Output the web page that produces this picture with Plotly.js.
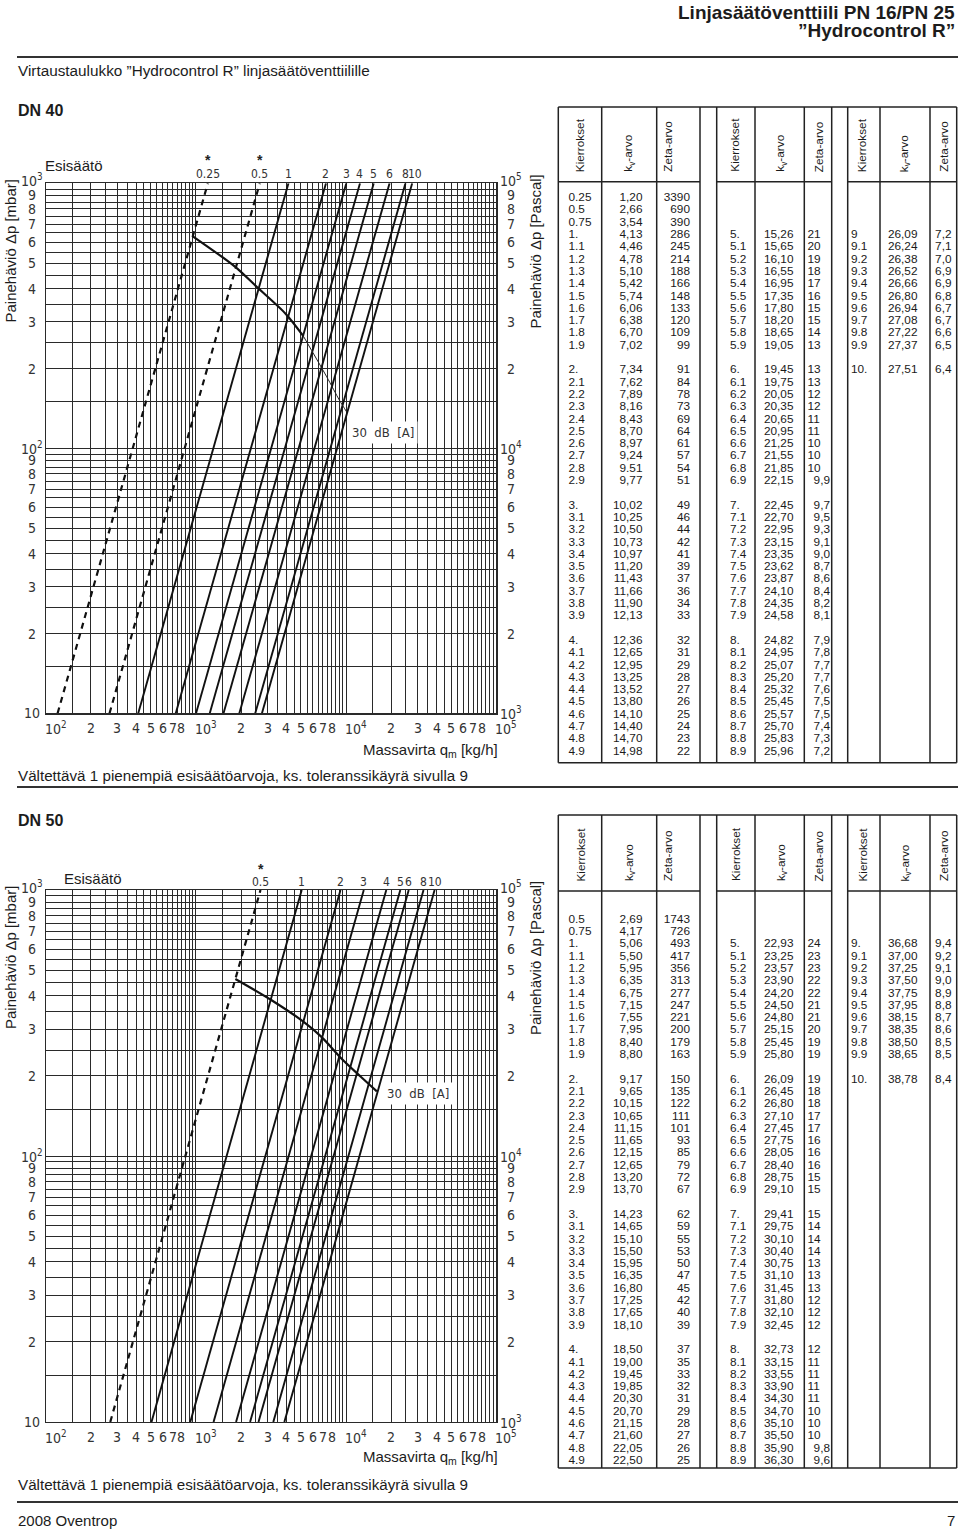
<!DOCTYPE html>
<html><head><meta charset="utf-8">
<script src="https://cdn.plot.ly/plotly-3.0.1.min.js"></script>
<style>html,body{margin:0;padding:0;background:#fff;}#chart{width:960px;height:1535px;}</style>
</head><body><div id="chart"></div>
<script>
// ================= DATA =================
const gridMultipliers = [1,1.5,2,2.5,3,3.5,4,4.5,5,5.5,6,6.5,7,7.5,8,8.5,9,9.5];
const xDecades = [100, 1000, 10000, 100000];
const yDecades = [10, 100, 1000];

const yTickVals  = [1000,900,800,700,600,500,400,300,200,100,90,80,70,60,50,40,30,20,10];
const yTickLeft  = ['10<sup>3</sup>','9','8','7','6','5','4','3','2','10<sup>2</sup>','9','8','7','6','5','4','3','2','10'];
const yTickRight = ['10<sup>5</sup>','9','8','7','6','5','4','3','2','10<sup>4</sup>','9','8','7','6','5','4','3','2','10<sup>3</sup>'];
const xTickVals  = [100,200,300,400,500,600,700,800,1000,2000,3000,4000,5000,6000,7000,8000,10000,20000,30000,40000,50000,60000,70000,80000,100000];
const xTickText  = ['10<sup>2</sup>','2','3','4','5','6','7','8','10<sup>3</sup>','2','3','4','5','6','7','8','10<sup>4</sup>','2','3','4','5','6','7','8','10<sup>5</sup>'];

// DN 40 curves: presetting, flow [kg/h] at 10 mbar and at 1000 mbar
const dn40Settings   = ['0.25','0.5','1','2','3','4','5','6','8','10'];
const dn40Dashed     = [true,true,false,false,false,false,false,false,false,false];
const dn40Starred    = [true,true,false,false,false,false,false,false,false,false];
const dn40FlowAt10   = [120,266,413,734,1002,1236,1526,1945,2482,2751];
const dn40FlowAt1000 = [1200,2660,4130,7340,10020,12360,15260,19450,24820,27510];
const dn40NoiseQ  = [953,1835,2547,3951,5188,7430,9012,10090];
const dn40NoiseDp = [631,483,406,322,265,186,152,137];

// DN 50 curves
const dn50Settings   = ['0.5','1','2','3','4','5','6','8','10'];
const dn50Dashed     = [true,false,false,false,false,false,false,false,false];
const dn50Starred    = [true,false,false,false,false,false,false,false,false];
const dn50FlowAt10   = [269,506,917,1310,1850,2293,2609,3273,3878];
const dn50FlowAt1000 = [2690,5060,9170,13100,18500,22930,26090,32730,38780];
const dn50NoiseQ  = [1830,3170,5188,6823,9474,12460,16010];
const dn50NoiseDp = [463,386,320,281,230,199,175];

// DN 40 table
const dn40Turns = ['0.25','0.5','0.75','1.','1.1','1.2','1.3','1.4','1.5','1.6','1.7','1.8','1.9',
 '2.','2.1','2.2','2.3','2.4','2.5','2.6','2.7','2.8','2.9',
 '3.','3.1','3.2','3.3','3.4','3.5','3.6','3.7','3.8','3.9',
 '4.','4.1','4.2','4.3','4.4','4.5','4.6','4.7','4.8','4.9',
 '5.','5.1','5.2','5.3','5.4','5.5','5.6','5.7','5.8','5.9',
 '6.','6.1','6.2','6.3','6.4','6.5','6.6','6.7','6.8','6.9',
 '7.','7.1','7.2','7.3','7.4','7.5','7.6','7.7','7.8','7.9',
 '8.','8.1','8.2','8.3','8.4','8.5','8.6','8.7','8.8','8.9',
 '9','9.1','9.2','9.3','9.4','9.5','9.6','9.7','9.8','9.9','10.'];
const dn40Kv = ['1,20','2,66','3,54','4,13','4,46','4,78','5,10','5,42','5,74','6,06','6,38','6,70','7,02',
 '7,34','7,62','7,89','8,16','8,43','8,70','8,97','9,24','9.51','9,77',
 '10,02','10,25','10,50','10,73','10,97','11,20','11,43','11,66','11,90','12,13',
 '12,36','12,65','12,95','13,25','13,52','13,80','14,10','14,40','14,70','14,98',
 '15,26','15,65','16,10','16,55','16,95','17,35','17,80','18,20','18,65','19,05',
 '19,45','19,75','20,05','20,35','20,65','20,95','21,25','21,55','21,85','22,15',
 '22,45','22,70','22,95','23,15','23,35','23,62','23,87','24,10','24,35','24,58',
 '24,82','24,95','25,07','25,20','25,32','25,45','25,57','25,70','25,83','25,96',
 '26,09','26,24','26,38','26,52','26,66','26,80','26,94','27,08','27,22','27,37','27,51'];
const dn40Zeta = ['3390','690','390','286','245','214','188','166','148','133','120','109','99',
 '91','84','78','73','69','64','61','57','54','51',
 '49','46','44','42','41','39','37','36','34','33',
 '32','31','29','28','27','26','25','24','23','22',
 '21','20','19','18','17','16','15','15','14','13',
 '13','13','12','12','11','11','10','10','10','9,9',
 '9,7','9,5','9,3','9,1','9,0','8,7','8,6','8,4','8,2','8,1',
 '7,9','7,8','7,7','7,7','7,6','7,5','7,5','7,4','7,3','7,2',
 '7,2','7,1','7,0','6,9','6,9','6,8','6,7','6,7','6,6','6,5','6,4'];

// DN 50 table
const dn50Turns = ['0.5','0.75','1.','1.1','1.2','1.3','1.4','1.5','1.6','1.7','1.8','1.9',
 '2.','2.1','2.2','2.3','2.4','2.5','2.6','2.7','2.8','2.9',
 '3.','3.1','3.2','3.3','3.4','3.5','3.6','3.7','3.8','3.9',
 '4.','4.1','4.2','4.3','4.4','4.5','4.6','4.7','4.8','4.9',
 '5.','5.1','5.2','5.3','5.4','5.5','5.6','5.7','5.8','5.9',
 '6.','6.1','6.2','6.3','6.4','6.5','6.6','6.7','6.8','6.9',
 '7.','7.1','7.2','7.3','7.4','7.5','7.6','7.7','7.8','7.9',
 '8.','8.1','8.2','8.3','8.4','8.5','8,6','8.7','8.8','8.9',
 '9.','9.1','9.2','9.3','9.4','9.5','9.6','9.7','9.8','9.9','10.'];
const dn50Kv = ['2,69','4,17','5,06','5,50','5,95','6,35','6,75','7,15','7,55','7,95','8,40','8,80',
 '9,17','9,65','10,15','10,65','11,15','11,65','12,15','12,65','13,20','13,70',
 '14,23','14,65','15,10','15,50','15,95','16,35','16,80','17,25','17,65','18,10',
 '18,50','19,00','19,45','19,85','20,30','20,70','21,15','21,60','22,05','22,50',
 '22,93','23,25','23,57','23,90','24,20','24,50','24,80','25,15','25,45','25,80',
 '26,09','26,45','26,80','27,10','27,45','27,75','28,05','28,40','28,75','29,10',
 '29,41','29,75','30,10','30,40','30,75','31,10','31,45','31,80','32,10','32,45',
 '32,73','33,15','33,55','33,90','34,30','34,70','35,10','35,50','35,90','36,30',
 '36,68','37,00','37,25','37,50','37,75','37,95','38,15','38,35','38,50','38,65','38,78'];
const dn50Zeta = ['1743','726','493','417','356','313','277','247','221','200','179','163',
 '150','135','122','111','101','93','85','79','72','67',
 '62','59','55','53','50','47','45','42','40','39',
 '37','35','33','32','31','29','28','27','26','25',
 '24','23','23','22','22','21','21','20','19','19',
 '19','18','18','17','17','16','16','16','15','15',
 '15','14','14','14','13','13','13','12','12','12',
 '12','11','11','11','11','10','10','10','9,8','9,6',
 '9,4','9,2','9,1','9,0','8,9','8,8','8,7','8,6','8,5','8,5','8,4'];

// ================= LAYOUT HELPERS =================
const W = 960, H = 1535;
const px = x => x / W, py = y => 1 - y / H;
const F_ARIAL  = 'Liberation Sans, Arial, Helvetica, sans-serif';
const F_NARROW = 'Liberation Sans Narrow, Arial Narrow, Liberation Sans, sans-serif';
const F_STROKE = 'DejaVu Sans Condensed, DejaVu Sans, sans-serif';
const INK = '#1c1c1c';

function gridValues(decades) {
  const v = [];
  for (let i = 0; i < decades.length - 1; i++) gridMultipliers.forEach(m => v.push(m * decades[i]));
  v.push(decades[decades.length - 1]);
  return v;
}
const xGrid = gridValues(xDecades), yGrid = gridValues(yDecades);

const PLOT_L = 45.7, PLOT_R = 496.4;
const charts = [
  {id:'', title:'DN 40', top:183.3, bottom:713.3, settings:dn40Settings, lo:dn40FlowAt10, hi:dn40FlowAt1000,
   dashed:dn40Dashed, starred:dn40Starred, nq:dn40NoiseQ, ndp:dn40NoiseDp, boldCount:5,
   noiseLabel:[17610,115], titleY:111, esisX:43, esisY:166, starY:160, labelY:174, tickY:728, massY:750, noteY:775, ruleY:787,
   axisTitleY:251.5, labelShift:{'10':3}},
  {id:'2', title:'DN 50', top:890, bottom:1422, settings:dn50Settings, lo:dn50FlowAt10, hi:dn50FlowAt1000,
   dashed:dn50Dashed, starred:dn50Starred, nq:dn50NoiseQ, ndp:dn50NoiseDp, boldCount:dn50NoiseQ.length,
   noiseLabel:[30110,172], titleY:821, esisX:62, esisY:878, starY:869, labelY:882, tickY:1437, massY:1457, noteY:1484, ruleY:1502,
   axisTitleY:958, labelShift:{}}
];

const traces = [], annotations = [], shapes = [];
const layout = {
  width: W, height: H, margin:{l:0,r:0,t:0,b:0}, paper_bgcolor:'#fff', plot_bgcolor:'rgba(0,0,0,0)',
  showlegend:false, hovermode:false,
  xaxis3:{domain:[0,1], range:[0,W], visible:false, anchor:'y3', fixedrange:true},
  yaxis3:{domain:[0,1], range:[H,0], visible:false, anchor:'x3', fixedrange:true}
};

function note(x, y, text, o) {
  o = o || {};
  return Object.assign({xref:'paper', yref:'paper', x:px(x), y:py(y), text:text, showarrow:false,
    xanchor:o.xa || 'left', yanchor:o.ya || 'middle',
    font:{family:o.family || F_ARIAL, size:o.size || 15, color:o.color || INK, weight:o.weight || 'normal'}},
    o.extra || {});
}

// header
annotations.push(note(957, 12.5, 'Linjasäätöventtiili PN 16/PN 25', {xa:'right', family:F_NARROW, size:19, weight:'bold'}));
annotations.push(note(957, 30.5, '”Hydrocontrol R”', {xa:'right', family:F_NARROW, size:19, weight:'bold'}));
shapes.push({type:'line', xref:'paper', yref:'paper', x0:px(17), x1:px(958), y0:py(57), y1:py(57), line:{color:'#333', width:2}});
annotations.push(note(16, 70, 'Virtaustaulukko ”Hydrocontrol R” linjasäätöventtiilille', {size:15.3}));
annotations.push(note(16, 1520, '2008 Oventrop', {size:15}));
annotations.push(note(957, 1520, '7', {xa:'right', size:15}));

charts.forEach(c => {
  const xa = 'x' + c.id, ya = 'y' + c.id;
  const xKey = 'xaxis' + c.id, yKey = 'yaxis' + c.id;
  layout[xKey] = {domain:[px(PLOT_L), px(PLOT_R)], type:'log', range:[2,5], anchor:ya,
    tickmode:'array', tickvals:xGrid, showticklabels:false, ticks:'',
    showgrid:true, gridcolor:'#2a2a2a', gridwidth:1, showline:true, mirror:true, linecolor:'#2a2a2a', linewidth:1.2,
    zeroline:false, fixedrange:true};
  layout[yKey] = {domain:[py(c.bottom), py(c.top)], type:'log', range:[1,3], anchor:xa,
    tickmode:'array', tickvals:yGrid, showticklabels:false, ticks:'',
    showgrid:true, gridcolor:'#2a2a2a', gridwidth:1, showline:true, mirror:true, linecolor:'#2a2a2a', linewidth:1.2,
    zeroline:false, fixedrange:true};

  // presetting lines
  c.settings.forEach((s, i) => {
    traces.push({type:'scatter', mode:'lines', x:[c.lo[i], c.hi[i]], y:[10, 1000], xaxis:xa, yaxis:ya,
      line:{color:'#111', width:c.dashed[i] ? 2.2 : 1.9, dash:c.dashed[i] ? '6px,5px' : 'solid'}, hoverinfo:'skip'});
    annotations.push({xref:xa, yref:'paper', x:Math.log10(c.hi[i]), y:py(c.labelY), text:s, showarrow:false,
      xanchor:'center', yanchor:'middle', xshift:c.labelShift[s] || 0, font:{family:F_STROKE, size:12, color:'#333'}});
    if (c.starred[i]) annotations.push({xref:xa, yref:'paper', x:Math.log10(c.hi[i]), y:py(c.starY), text:'*',
      showarrow:false, xanchor:'center', yanchor:'middle', font:{family:F_ARIAL, size:14, color:'#222', weight:'bold'}});
  });
  // 30 dB(A) curve
  traces.push({type:'scatter', mode:'lines', x:c.nq.slice(0, c.boldCount), y:c.ndp.slice(0, c.boldCount), xaxis:xa, yaxis:ya,
    line:{color:'#111', width:2.2, shape:'spline', smoothing:0.8}, hoverinfo:'skip'});
  if (c.boldCount < c.nq.length) traces.push({type:'scatter', mode:'lines', x:c.nq.slice(c.boldCount - 1), y:c.ndp.slice(c.boldCount - 1),
    xaxis:xa, yaxis:ya, line:{color:'#222', width:1, shape:'spline', smoothing:0.8}, hoverinfo:'skip'});
  annotations.push({xref:xa, yref:ya, x:Math.log10(c.noiseLabel[0]), y:Math.log10(c.noiseLabel[1]), text:'30&nbsp; dB&nbsp; [A]',
    showarrow:false, bgcolor:'#fff', borderpad:3, font:{family:F_STROKE, size:13, color:'#333'}});

  // tick labels
  yTickVals.forEach((v, i) => {
    const shift = (i === 0) ? 3 : 0;
    annotations.push({xref:'paper', yref:ya, x:px(31.5), y:Math.log10(v), text:yTickLeft[i], showarrow:false, yshift:shift,
      xanchor:'center', yanchor:'middle', font:{family:F_STROKE, size:14, color:'#333'}});
    annotations.push({xref:'paper', yref:ya, x:px(511), y:Math.log10(v), text:yTickRight[i], showarrow:false, yshift:shift,
      xanchor:'center', yanchor:'middle', font:{family:F_STROKE, size:14, color:'#333'}});
  });
  xTickVals.forEach((v, i) => {
    const dec = xTickText[i].indexOf('sup') >= 0;
    annotations.push({xref:xa, yref:'paper', x:Math.log10(v), y:py(c.tickY), text:xTickText[i], showarrow:false,
      xanchor:dec ? 'left' : 'center', xshift:dec ? -3 : 0, yanchor:'middle', font:{family:F_STROKE, size:14, color:'#333'}});
  });

  // titles
  annotations.push(note(16, c.titleY, c.title, {size:16, weight:'bold'}));
  annotations.push(note(c.esisX, c.esisY, 'Esisäätö', {size:15}));
  annotations.push(note(10, c.axisTitleY, 'Painehäviö Δp [mbar]', {xa:'center', size:15, extra:{textangle:-90}}));
  annotations.push(note(535, c.axisTitleY, 'Painehäviö Δp [Pascal]', {xa:'center', size:15, extra:{textangle:-90}}));
  annotations.push(note(500, c.massY, 'Massavirta q<sub>m</sub> [kg/h]', {xa:'right', size:15}));
  annotations.push(note(16, c.noteY, 'Vältettävä 1 pienempiä esisäätöarvoja, ks. toleranssikäyrä sivulla 9', {size:15.2}));
  shapes.push({type:'line', xref:'paper', yref:'paper', x0:px(17), x1:px(958), y0:py(c.ruleY), y1:py(c.ruleY), line:{color:'#333', width:2}});
});

// ================= TABLES =================
const ROW = 12.3;
const COL_X = [558.3, 601.7, 656.7, 700, 716.7, 755, 804.3, 831.7, 847.7, 880, 930, 956.7];
const GROUP_SPAN = [[558.3, 700], [716.7, 831.7], [847.7, 956.7]];
const CELL = [
  {turns:568.5, kv:642.5, zInt:690, zDec:690},
  {turns:730, kv:793.5, zInt:807.5, zDec:830},
  {turns:851, kv:917.5, zInt:951.5, zDec:951.5}
];
const HEAD_X = [[580, 629, 668], [735.5, 781, 818.5], [862, 904.5, 944]];
const HEAD_TXT = ['Kierrokset', 'k<sub>v</sub>-arvo', 'Zeta-arvo'];

function place(s) {
  const f = Math.floor(s), t = Math.round((s - f) * 10);
  if (s < 1) return {g:0, r:Math.round(s * 4) - 1};
  if (s < 2) return {g:0, r:3 + t};
  if (s < 5) return {g:0, r:14 + (f - 2) * 11 + t};
  if (s < 6) return {g:1, r:3 + t};
  if (s < 9) return {g:1, r:14 + (f - 6) * 11 + t};
  if (s < 10) return {g:2, r:3 + t};
  return {g:2, r:14};
}

function buildTable(turns, kv, zeta, top, headBottom, bottom) {
  const rowTop = headBottom + 16.5;
  const xs = [], ys = [], tx = [], pos = [];
  turns.forEach((t, i) => {
    const p = place(parseFloat(t.replace(',', '.')));
    const y = rowTop + p.r * ROW, c = CELL[p.g];
    xs.push(c.turns); ys.push(y); tx.push(t); pos.push('middle right');
    xs.push(c.kv); ys.push(y); tx.push(kv[i]); pos.push('middle left');
    const dec = zeta[i].indexOf(',') >= 0;
    if (p.g === 1 && !dec) { xs.push(c.zInt); pos.push('middle right'); }
    else { xs.push(c.zDec); pos.push('middle left'); }
    ys.push(y); tx.push(zeta[i]);
  });
  traces.push({type:'scatter', mode:'text', x:xs, y:ys, text:tx, textposition:pos, xaxis:'x3', yaxis:'y3',
    textfont:{family:F_ARIAL, size:11.8, color:'#1a1a1a'}, cliponaxis:false, hoverinfo:'skip'});
  const L = {color:'#222', width:1.5};
  shapes.push({type:'line', xref:'paper', yref:'paper', x0:px(COL_X[0]), x1:px(COL_X[11]), y0:py(top), y1:py(top), line:L});
  shapes.push({type:'line', xref:'paper', yref:'paper', x0:px(COL_X[0]), x1:px(COL_X[11]), y0:py(bottom), y1:py(bottom), line:L});
  COL_X.forEach(x => shapes.push({type:'line', xref:'paper', yref:'paper', x0:px(x), x1:px(x), y0:py(top), y1:py(bottom), line:L}));
  GROUP_SPAN.forEach(g => shapes.push({type:'line', xref:'paper', yref:'paper', x0:px(g[0]), x1:px(g[1]), y0:py(headBottom), y1:py(headBottom), line:L}));
  HEAD_X.forEach(g => g.forEach((x, k) => {
    annotations.push({xref:'paper', yref:'paper', x:px(x), y:py(headBottom - 7.5), text:HEAD_TXT[k], showarrow:false,
      textangle:-90, xanchor:'center', yanchor:'bottom', font:{family:F_ARIAL, size:11.8, color:'#1a1a1a'}});
  }));
}
buildTable(dn40Turns, dn40Kv, dn40Zeta, 107, 181.7, 762.7);
buildTable(dn50Turns, dn50Kv, dn50Zeta, 815, 891, 1468);

layout.annotations = annotations;
layout.shapes = shapes;
Plotly.newPlot('chart', traces, layout, {staticPlot:true, displayModeBar:false});
</script>
</body></html>
